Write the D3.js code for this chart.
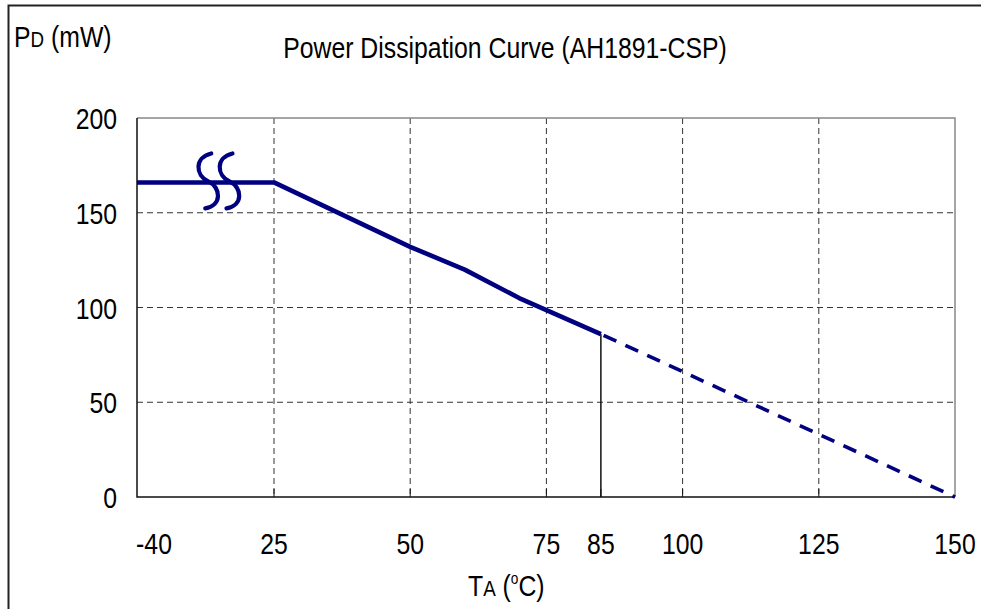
<!DOCTYPE html>
<html>
<head>
<meta charset="utf-8">
<script src="https://cdn.jsdelivr.net/npm/d3@7"></script>
<style>
  html, body { margin: 0; padding: 0; background: #fff; }
  svg { display: block; }
  text { font-family: "Liberation Sans", Arial, sans-serif; fill: #000; }
</style>
</head>
<body>
<script>
// ---- data ----
const tempC = [-40, 25, 50, 60, 70, 85];
const powerMW = [166, 166, 132, 120, 105, 86];
const deratedTemp = [85, 150];
const deratedPower = [86, 0];
const xTickValues = [-40, 25, 50, 75, 85, 100, 125, 150];
const yTickValues = [0, 50, 100, 150, 200];
const xGridValues = [25, 50, 75, 100, 125];
const yGridValues = [50, 100, 150];
const titleText = "Power Dissipation Curve (AH1891-CSP)";

const W = 982, H = 609;
const svg = d3.select("body").append("svg").attr("width", W).attr("height", H);
svg.append("rect").attr("width", W).attr("height", H).attr("fill", "#fff");

const x = d3.scaleLinear().domain([-40, 25, 150]).range([137, 274, 955]);
const y = d3.scaleLinear().domain([0, 200]).range([497, 118]);
const SX = 0.855; // narrow font emulation
const FS = 29, FSS = 22;

// outer frame (top + left)
svg.append("path").attr("d", `M8.5,${H + 2}V5.5H981`).attr("fill", "none")
  .attr("stroke", "#222").attr("stroke-width", 2);

// grid
const g = svg.append("g");
g.selectAll(".gx").data(xGridValues).join("line")
  .attr("x1", d => x(d)).attr("x2", d => x(d))
  .attr("y1", y(200)).attr("y2", y(0))
  .attr("stroke", "#333").attr("stroke-width", 1).attr("stroke-dasharray", "6,4");
g.selectAll(".gy").data(yGridValues).join("line")
  .attr("x1", x(-40)).attr("x2", x(150))
  .attr("y1", d => y(d)).attr("y2", d => y(d))
  .attr("stroke", "#333").attr("stroke-width", 1).attr("stroke-dasharray", "6,4");

// plot frame: top/right gray, left/bottom black
svg.append("path").attr("d", `M${x(-40)},${y(200)}H${x(150)}V${y(0)}`)
  .attr("fill", "none").attr("stroke", "#888").attr("stroke-width", 1.5);
svg.append("path").attr("d", `M${x(-40)},${y(200)}V${y(0)}H${x(150)}`)
  .attr("fill", "none").attr("stroke", "#111").attr("stroke-width", 1.5);

// small bottom ticks
svg.selectAll(".tk").data(xTickValues.filter(d => d > -40 && d < 150)).join("line")
  .attr("x1", d => x(d)).attr("x2", d => x(d))
  .attr("y1", y(0)).attr("y2", y(0) - 8)
  .attr("stroke", "#111").attr("stroke-width", 1);

// vertical marker at 85
svg.append("line")
  .attr("x1", x(85)).attr("x2", x(85))
  .attr("y1", y(deratedPower[0])).attr("y2", y(0))
  .attr("stroke", "#111").attr("stroke-width", 1.5);

// curves
const line = d3.line().x(d => x(d[0])).y(d => y(d[1]));
const solidPts = tempC.map((t, i) => [t, powerMW[i]]);
svg.append("path").attr("d", line(solidPts)).attr("fill", "none")
  .attr("stroke", "#000080").attr("stroke-width", 4.6).attr("stroke-linejoin", "round");
const dashPts = deratedTemp.map((t, i) => [t, deratedPower[i]]);
svg.append("path").attr("d", line(dashPts)).attr("fill", "none")
  .attr("stroke", "#000080").attr("stroke-width", 3.6).attr("stroke-dasharray", "14,10")
  .attr("stroke-dashoffset", -3);

// axis break symbol (two S shapes) on the flat segment
const bx0 = x(-40), bx1 = x(25);
const by = y(powerMW[0]);
[0.52, 0.675].forEach(f => {
  const cx = bx0 + (bx1 - bx0) * f;
  svg.append("path")
    .attr("d", "M3,-28 C-14,-24 -13,-6 0,0 C13,6 14,24 -3,27")
    .attr("transform", `translate(${cx},${by - 1})`)
    .attr("fill", "none").attr("stroke", "#000080").attr("stroke-width", 4.2)
    .attr("stroke-linecap", "round");
});

// text helper
function txt(px, py, anchor, size) {
  return svg.append("g").attr("transform", `translate(${px},${py}) scale(${SX},1)`)
    .append("text").attr("text-anchor", anchor).attr("font-size", size);
}

// y tick labels
yTickValues.forEach(v => {
  txt(117, y(v) + 11, "end", FS).text(v);
});
// x tick labels
xTickValues.forEach(v => {
  const off = v === -40 ? 17 : 0;
  txt(x(v) + off, 554, "middle", FS).text(v);
});

// title
txt(505, 58, "middle", FS).text(titleText);

// y axis label PD (mW)
const yl = txt(14, 47, "start", FS);
yl.append("tspan").text("P");
yl.append("tspan").attr("font-size", FSS).text("D");
yl.append("tspan").text(" (mW)");

// x axis label TA (oC)
const xl = txt(468, 596, "start", FS);
xl.append("tspan").text("T");
xl.append("tspan").attr("font-size", FSS).text("A");
xl.append("tspan").text(" (");
xl.append("tspan").attr("font-size", 16).attr("dy", -12).text("o");
xl.append("tspan").attr("dy", 12).text("C)");
</script>
</body>
</html>
